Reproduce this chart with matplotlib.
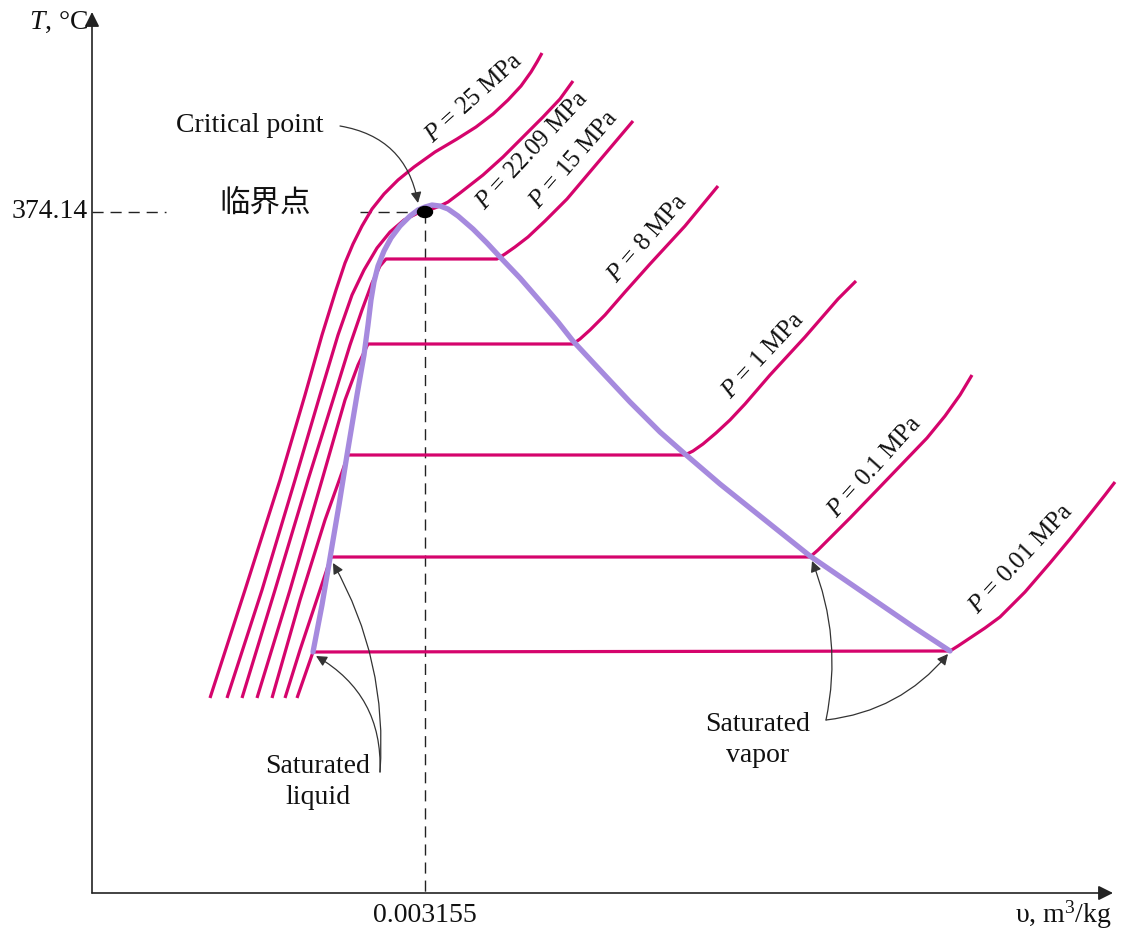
import numpy as np
import matplotlib.pyplot as plt
from matplotlib.patches import Ellipse

plt.rcParams['mathtext.fontset'] = 'custom'
plt.rcParams['mathtext.rm'] = 'Liberation Serif'
plt.rcParams['mathtext.it'] = 'Liberation Serif:italic'

# schematic T-v diagram, coordinates in drawing units (y grows downward like the image)
p25_x = [210, 245, 280, 305, 322, 336, 345, 353, 362, 372, 384, 398, 414, 435, 457, 476, 493, 508, 521, 531, 537, 542]
p25_y = [698, 590, 480, 395, 335, 290, 263, 244, 226, 209, 194, 180, 167, 152, 139, 127, 114, 100, 86, 72, 62, 53]

p2209_x = [227, 262, 295, 320, 338, 352, 364, 377, 390, 404, 418, 425, 432, 440, 448, 460, 483, 503, 517, 543, 560, 573]
p2209_y = [698, 590, 480, 395, 335, 295, 270, 248, 232, 220, 213, 211, 209, 206, 202, 193, 175, 157, 143, 117, 99, 81]

p15_x = [242, 275, 308, 333, 350, 362, 372, 380, 386, 497, 505, 515, 528, 545, 567, 600, 633]
p15_y = [698, 590, 480, 400, 345, 310, 283, 266, 259, 259, 254, 247, 237, 221, 199, 160, 121]

p8_x = [257, 290, 322, 345, 358, 368, 573, 580, 590, 605, 625, 650, 685, 718]
p8_y = [698, 590, 480, 400, 365, 344, 344, 339, 330, 315, 292, 264, 226, 186]

p1_x = [272, 300, 325, 340, 348, 685, 693, 703, 716, 730, 745, 770, 805, 838, 856]
p1_y = [698, 600, 520, 478, 455, 455, 451, 444, 433, 420, 404, 375, 337, 299, 281]

p01_x = [285, 300, 315, 325, 331, 810, 818, 828, 850, 877, 902, 927, 945, 960, 972]
p01_y = [698, 650, 605, 575, 557, 557, 550, 540, 518, 490, 464, 438, 416, 395, 375]

p001_x = [297, 305, 313, 950, 958, 970, 985, 1000, 1025, 1050, 1070, 1090, 1105, 1115]
p001_y = [698, 675, 652, 651, 646, 638, 628, 617, 592, 563, 539, 514, 495, 482]

isobars = [(p25_x, p25_y), (p2209_x, p2209_y), (p15_x, p15_y), (p8_x, p8_y),
           (p1_x, p1_y), (p01_x, p01_y), (p001_x, p001_y)]

dome_x = [313, 322, 330, 339, 347, 357, 364, 368, 371, 374, 378, 384, 391, 400, 410, 418, 425,
          432, 440, 448, 458, 473, 487, 500, 520, 540, 558, 573, 600, 630, 660, 685, 720,
          750, 780, 810, 845, 880, 915, 950]
dome_y = [652, 605, 558, 505, 455, 395, 355, 325, 300, 282, 266, 251, 238, 226, 216, 210, 207,
          205, 206, 209, 216, 229, 243, 257, 278, 301, 322, 341, 370, 402, 432, 454, 484,
          508, 532, 556, 580, 604, 628, 651]

crit_x, crit_y = 425, 212
crit_T_label = '374.14'
crit_v_label = '0.003155'

p_labels = ['$P$ = 25 MPa', '$P$ = 22.09 MPa', '$P$ = 15 MPa', '$P$ = 8 MPa',
            '$P$ = 1 MPa', '$P$ = 0.1 MPa', '$P$ = 0.01 MPa']
p_label_x = [474, 532, 574, 648, 764, 875, 1021]
p_label_y = [98, 150, 160, 238, 355, 467, 559]
p_label_rot = [42, 47, 49, 49, 47, 48, 47]

magenta = '#d5046c'
purple = '#a68ade'
serif = 'Liberation Serif'

fig = plt.figure(figsize=(11.21, 9.33), dpi=100)
ax = fig.add_axes([0, 0, 1, 1])
ax.set_xlim(0, 1121)
ax.set_ylim(933, 0)
ax.axis('off')

# axes with arrows
x0, y0 = 92, 893
ax.annotate('', xy=(x0, 12), xytext=(x0, y0),
            arrowprops=dict(arrowstyle='-|>', lw=1.2, color='#222', mutation_scale=22, shrinkA=0, shrinkB=0))
ax.annotate('', xy=(1113, y0), xytext=(x0, y0),
            arrowprops=dict(arrowstyle='-|>', lw=1.2, color='#222', mutation_scale=22, shrinkA=0, shrinkB=0))

# dashed guides to the critical point
ax.plot([x0, 166], [crit_y, crit_y], color='#222', lw=1, ls=(0, (8, 5)))
ax.plot([360, crit_x], [crit_y, crit_y], color='#222', lw=1, ls=(0, (8, 5)))
ax.plot([crit_x, crit_x], [crit_y, y0], color='#222', lw=1, ls=(0, (8, 5)))

for xs, ys in isobars:
    ax.plot(xs, ys, color=magenta, lw=2.3, solid_capstyle='butt', solid_joinstyle='round')

ax.plot(dome_x, dome_y, color=purple, lw=3.8, solid_joinstyle='round', solid_capstyle='round', zorder=3)
ax.add_patch(Ellipse((crit_x, crit_y), 15, 11, color='black', zorder=4))

for txt, lx, ly, rot in zip(p_labels, p_label_x, p_label_y, p_label_rot):
    ax.text(lx, ly, txt, rotation=rot, rotation_mode='anchor', ha='center', va='center',
            fontsize=18, family=serif, color='#111')

# axis texts
ax.text(88, 22, '$T$, °C', ha='right', va='center', fontsize=20, family=serif, color='#111')
ax.text(88, 212, crit_T_label, ha='right', va='center', fontsize=20, family=serif, color='#111')
ax.text(crit_x, 915, crit_v_label, ha='center', va='center', fontsize=20, family=serif, color='#111')
ax.text(1112, 915, 'υ, m$^3$/kg', ha='right', va='center', fontsize=20, family=serif, color='#111')

ax.text(250, 126, 'Critical point', ha='center', va='center', fontsize=20, family=serif, color='#111')
ax.text(265, 203, '临界点', ha='center', va='center', fontsize=22,
        family=['Noto Sans CJK SC', 'DejaVu Sans'], color='#111')

ax.text(318, 782, 'Saturated\nliquid', ha='center', va='center', fontsize=20, family=serif,
        color='#111', linespacing=1.35)
ax.text(758, 740, 'Saturated\nvapor', ha='center', va='center', fontsize=20, family=serif,
        color='#111', linespacing=1.35)

arrow_kw = dict(arrowstyle='-|>', lw=0.9, color='#333', mutation_scale=16, shrinkA=0, shrinkB=0)
ax.annotate('', xy=(418, 203), xytext=(340, 126),
            arrowprops=dict(connectionstyle='arc3,rad=-0.35', **arrow_kw))
ax.annotate('', xy=(316, 656), xytext=(380, 772),
            arrowprops=dict(connectionstyle='arc3,rad=0.3', **arrow_kw))
ax.annotate('', xy=(333, 563), xytext=(380, 772),
            arrowprops=dict(connectionstyle='arc3,rad=0.15', **arrow_kw))
ax.annotate('', xy=(812, 561), xytext=(826, 720),
            arrowprops=dict(connectionstyle='arc3,rad=0.15', **arrow_kw))
ax.annotate('', xy=(948, 654), xytext=(826, 720),
            arrowprops=dict(connectionstyle='arc3,rad=0.2', **arrow_kw))

fig.savefig('out.png', dpi=100)
